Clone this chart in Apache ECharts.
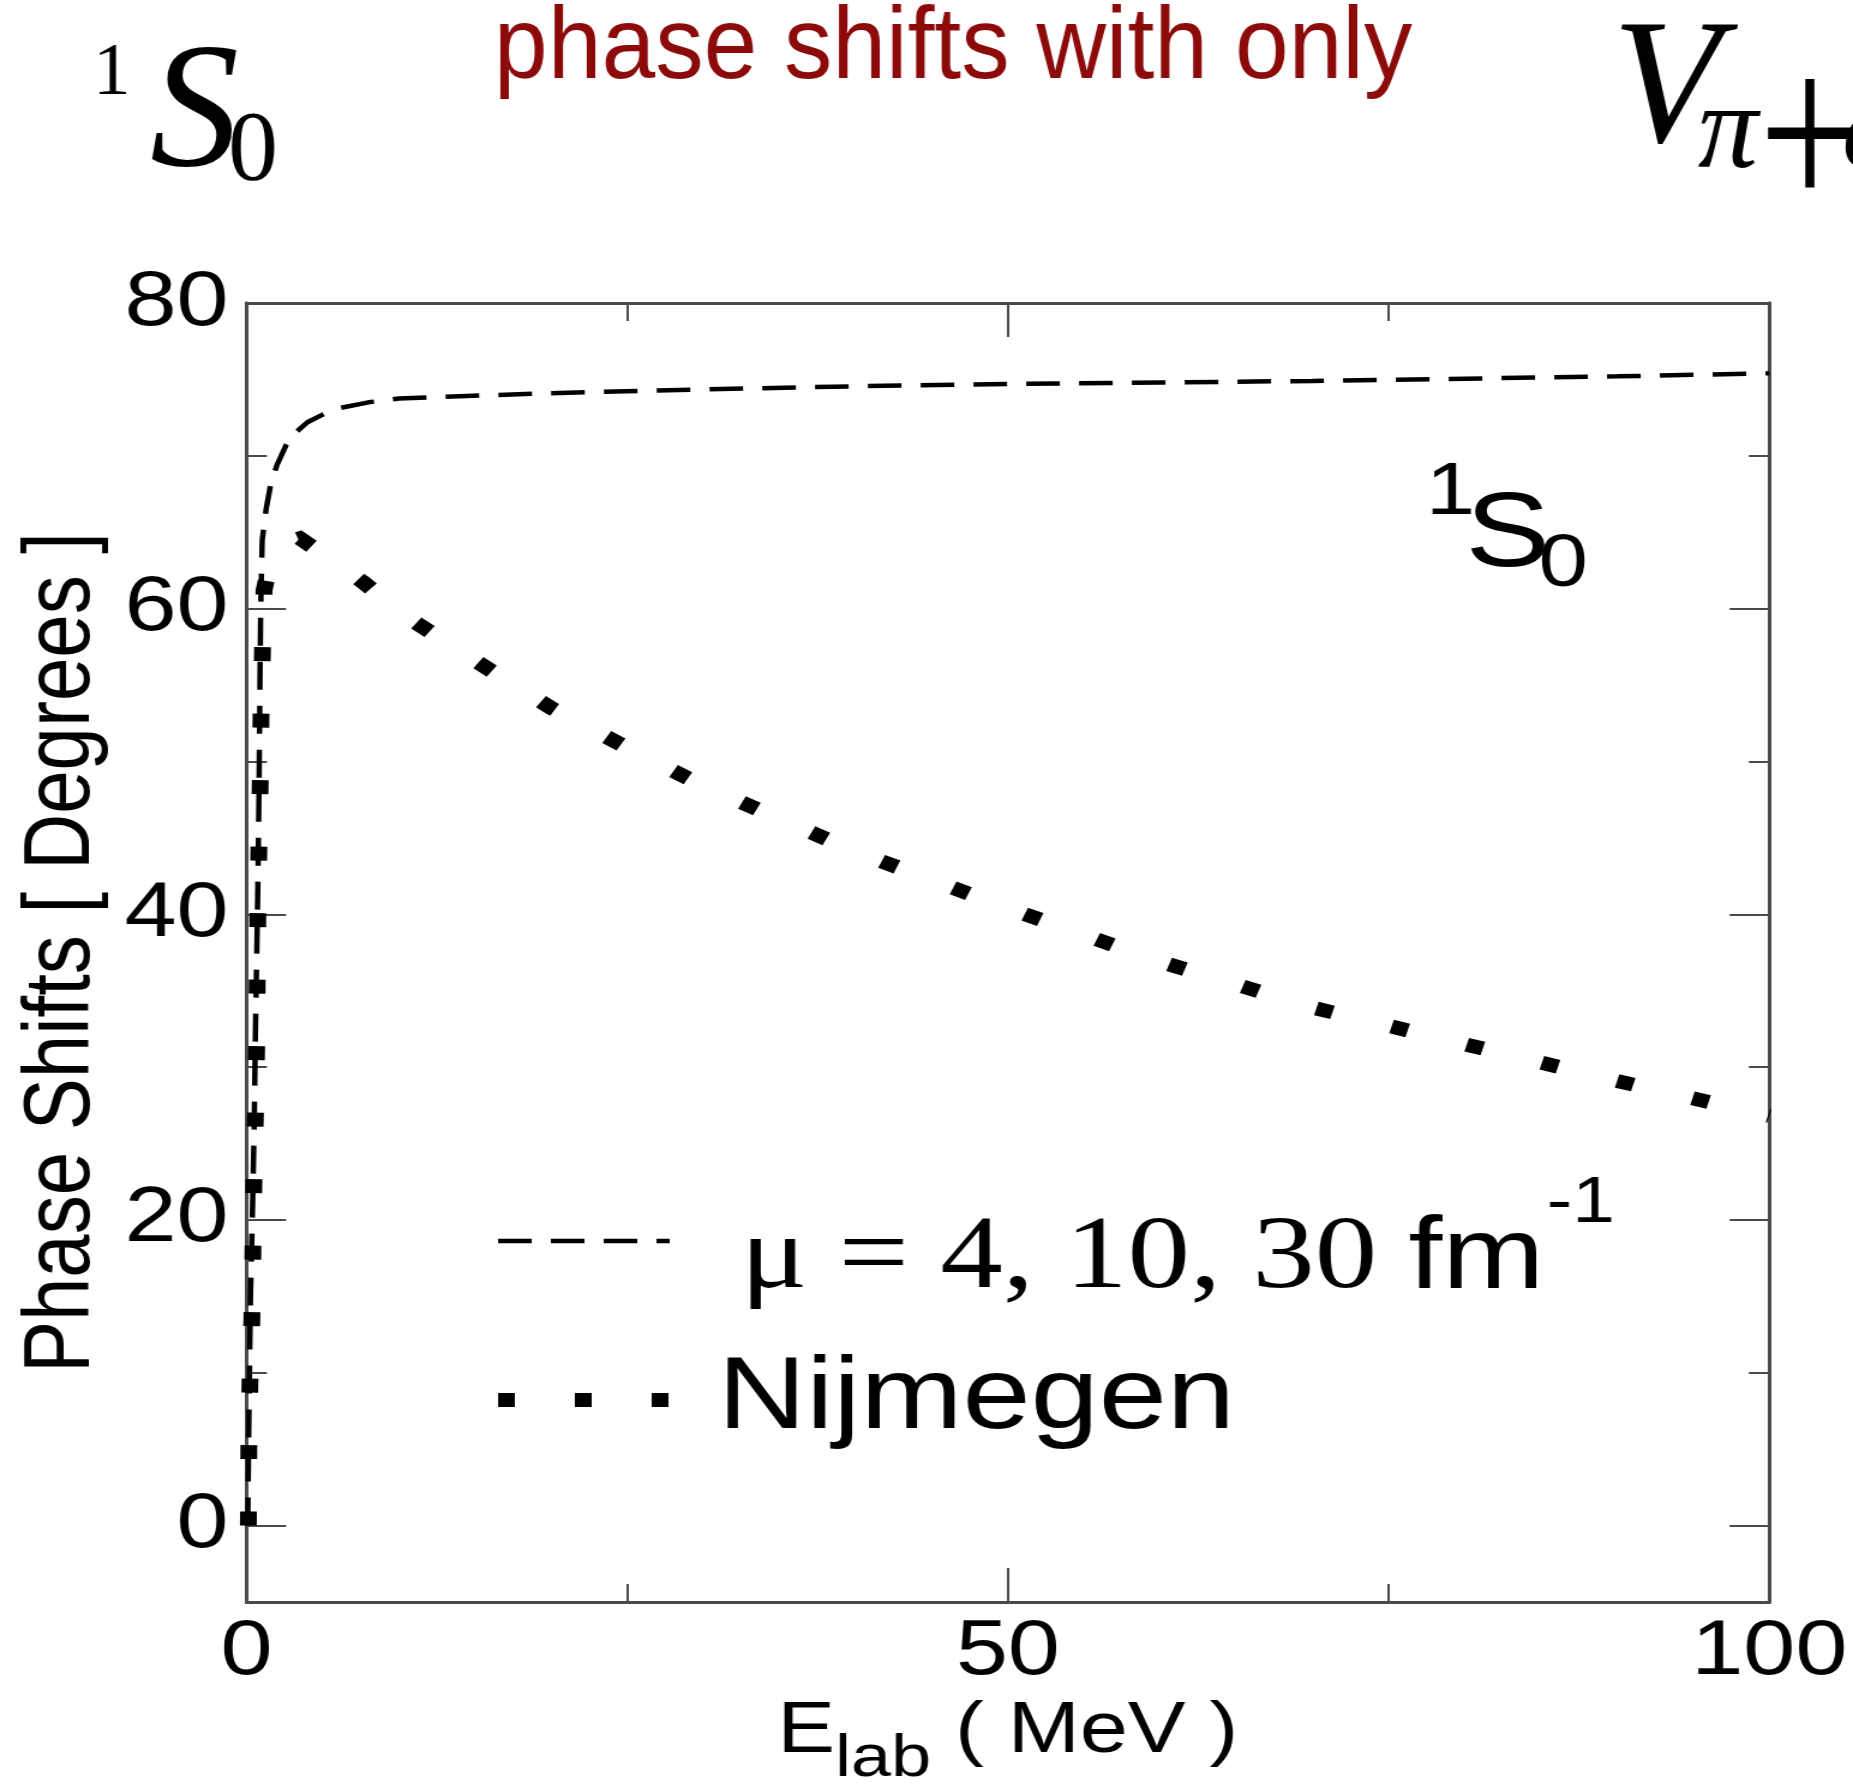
<!DOCTYPE html>
<html>
<head>
<meta charset="utf-8">
<script src="https://cdn.jsdelivr.net/npm/echarts@6/dist/echarts.min.js"></script>
<style>
  html, body { margin: 0; padding: 0; background: #fff; overflow: hidden; }
  #wrap { width: 1853px; height: 1787px; overflow: hidden; position: relative; }
  /* the figure is drawn on a narrower canvas and widened, as in the slide */
  #chart { width: 1544px; height: 1787px; transform: scaleX(1.20013); transform-origin: 0 0; }
</style>
</head>
<body>
<div id="wrap"><div id="chart"></div></div>
<script>
// 1S0 phase shifts (degrees) against lab energy (MeV)

// cut-off mu = 4, 10, 30 fm^-1 (the three curves coincide)
const muEnergy = [0.08, 0.15, 0.26, 0.4, 0.5, 0.58, 0.74, 0.82, 0.88, 0.93,
                  1.03, 1.3, 1.6, 2.0, 2.6, 3.2, 4.0, 5, 6, 8,
                  10, 14, 20, 30, 40, 50, 60, 70, 80, 90, 100];
const muPhase  = [0, 6.6, 15, 21, 26, 32, 41.6, 48, 55, 60,
                  64.5, 66.6, 68.2, 69.4, 70.7, 71.5, 72.2, 72.7, 73.1, 73.5,
                  73.75, 73.9, 74.1, 74.35, 74.55, 74.7, 74.8, 74.9, 75.05, 75.2, 75.4];

// Nijmegen partial-wave analysis
const nijEnergy = [0.12, 0.15, 0.22, 0.35, 0.42, 0.48, 0.58, 0.66, 0.7, 0.74,
                   0.81, 0.9, 0.95, 1.05, 1.15, 1.6, 2.3, 3.5, 5, 7.7,
                   10, 15, 20, 25, 30, 40, 50, 60, 70, 80, 90, 100];
const nijPhase  = [0, 5, 9.2, 13.5, 18, 22.3, 26.7, 31, 35.5, 40,
                   44.2, 48.6, 53, 57.4, 61.2, 63.2, 64.2, 64.6, 63.6, 61.7,
                   59.8, 56.6, 53.5, 50.9, 48.4, 44.1, 40.4, 36.9, 33.9, 31.5, 29.1, 26.8];

// axis ticks
const xRange = [0, 100];
const xStep = 50;
const yRange = [-5, 80];
const yMajorTicks = [0, 20, 40, 60, 80];
const yMinorTicks = [10, 30, 50, 70];

const MU_NAME = 'μ = 4, 10, 30 fm-1';
const NIJ_NAME = 'Nijmegen';

const SX = 1853 / 1544;          // horizontal widening of the canvas
const SANS = "'Liberation Sans', Arial, Helvetica, sans-serif";
const SERIF = "'Liberation Serif', 'Times New Roman', Times, serif";
const AXIS_GREY = '#4a4a4a';

const DASH_MU = [28, 16];
// square dots; the steep low-energy rise and the falling branch are stroked separately
const NIJ_KNEE = 16;                 // index where the two stroked pieces meet
const DOT_RISE = [14, 52.5];
const DOT_FALL = [14, 51.2];
const DOT_FALL_OFFSET = 50.3;
const DOT_LEGEND = [14, 50];

const zip = (xs, ys) => xs.map((x, i) => [x, ys[i]]);
const nijData = zip(nijEnergy, nijPhase);

const chart = echarts.init(document.getElementById('chart'), null, { renderer: 'canvas' });

const tickStyle = { color: AXIS_GREY, width: 2 };
const lineAxis = { show: true, onZero: false, lineStyle: { color: AXIS_GREY, width: 3 } };

function yAxisDef(position, ticks, len, withLabel) {
  const ax = {
    type: 'value', position: position, min: yRange[0], max: yRange[1],
    axisLine: lineAxis,
    axisTick: { show: true, inside: true, length: len, customValues: ticks, lineStyle: tickStyle },
    axisLabel: { show: false },
    splitLine: { show: false }
  };
  if (withLabel) {
    ax.axisLabel = { show: true, customValues: ticks, fontSize: 78, fontFamily: SANS, color: '#000', margin: 15,
                     padding: [6, 0, 0, 0] };
    ax.name = 'Phase Shifts [ Degrees ]';
    ax.nameLocation = 'middle';
    ax.nameGap = 114;
    ax.nameTextStyle = { fontSize: 78, fontFamily: SANS, color: '#000' };
  }
  return ax;
}

function xAxisDef(position, withLabel) {
  const ax = {
    type: 'value', position: position, min: xRange[0], max: xRange[1], interval: xStep,
    axisLine: lineAxis,
    axisTick: { show: true, inside: true, length: 34, lineStyle: tickStyle },
    minorTick: { show: true, splitNumber: 2, length: 18, lineStyle: tickStyle },
    axisLabel: { show: false },
    splitLine: { show: false },
    minorSplitLine: { show: false }
  };
  if (withLabel) {
    ax.axisLabel = { show: true, fontSize: 78, lineHeight: 78, fontFamily: SANS, color: '#000', margin: 11 };
    ax.name = '{e|E}{s|lab}{p| ( MeV )}';
    ax.nameLocation = 'middle';
    ax.nameGap = 92;
    ax.nameTextStyle = {
      color: '#000', fontFamily: SANS,
      rich: {
        e: { fontSize: 72, lineHeight: 72, verticalAlign: 'top', fontFamily: SANS, color: '#000' },
        s: { fontSize: 60, lineHeight: 60, verticalAlign: 'top', padding: [34, 0, 0, 0], fontFamily: SANS, color: '#000' },
        p: { fontSize: 72, lineHeight: 72, verticalAlign: 'top', fontFamily: SANS, color: '#000' }
      }
    };
  }
  return ax;
}

// slide heading texts (kept at natural width on the widened canvas)
function slideText(text, xFull, y, font, extra) {
  return Object.assign({
    type: 'text', x: xFull / SX, y: y, scaleX: 1 / SX, silent: true,
    style: Object.assign({ text: text, fill: '#000', align: 'left', textAlign: 'left',
                           verticalAlign: 'middle', textVerticalAlign: 'middle' }, font)
  }, extra || {});
}

function tagText(text, x, y, size) {
  return { type: 'text', x: x, y: y, silent: true,
    style: { text: text, fill: '#000', fontSize: size, fontFamily: SANS, align: 'left', verticalAlign: 'middle',
             textAlign: 'left', textVerticalAlign: 'middle' } };
}

const option = {
  animation: false,
  backgroundColor: '#fff',
  grid: { left: 205.4, right: 69.8, top: 303, bottom: 185, containLabel: false, outerBoundsMode: 'none' },
  xAxis: [xAxisDef('bottom', true), xAxisDef('top', false)],
  yAxis: [
    yAxisDef('left', yMajorTicks, 33, true),
    yAxisDef('left', yMinorTicks, 17, false),
    yAxisDef('right', yMajorTicks, 33, false),
    yAxisDef('right', yMinorTicks, 17, false)
  ],
  legend: {
    orient: 'vertical', left: 408, top: 1172, padding: 0, itemGap: 37,
    itemWidth: 143, itemHeight: 20, selectedMode: false,
    itemStyle: { opacity: 0, color: 'transparent', borderWidth: 0 },
    lineStyle: { width: 'inherit', type: 'inherit' },
    data: [
      { name: MU_NAME, lineStyle: { color: '#000', width: 4.5, type: DASH_MU, cap: 'butt' } },
      { name: NIJ_NAME, lineStyle: { color: '#000', width: 14, type: DOT_LEGEND, cap: 'butt' } }
    ],
    formatter: function (name) {
      return name === MU_NAME ? '{a|μ = 4, 10, 30 }{f|fm}{s|-1}' : '{n|Nijmegen}';
    },
    textStyle: {
      color: '#000',
      rich: {
        a: { fontFamily: SERIF, fontSize: 104, lineHeight: 138, verticalAlign: 'top', padding: [36, 0, 0, 54], color: '#000' },
        f: { fontFamily: SANS, fontSize: 102, lineHeight: 138, verticalAlign: 'top', padding: [37, 0, 0, 0], color: '#000' },
        s: { fontFamily: SANS, fontSize: 64, lineHeight: 72, verticalAlign: 'top', padding: [0, 0, 0, 2], color: '#000' },
        n: { fontFamily: SANS, fontSize: 102, lineHeight: 110, padding: [0, 0, 0, 35], color: '#000' }
      }
    }
  },
  graphic: [
    // heading: 1S0
    slideText('1', 93, 74, { fontSize: 75, fontFamily: SERIF }),
    slideText('S', 150, 118, { fontSize: 178, fontFamily: SERIF, fontStyle: 'italic' }),
    slideText('0', 228, 153, { fontSize: 100, fontFamily: SERIF }),
    // heading: phase shifts with only
    {
      type: 'text', x: 494 / SX, y: 50, scaleX: 0.947 / SX, silent: true,
      style: { text: 'phase shifts with only', fill: '#8c0a0a', fontSize: 102, fontFamily: SANS,
               align: 'left', textAlign: 'left', verticalAlign: 'middle', textVerticalAlign: 'middle' }
    },
    // heading: V_{pi+ct}
    slideText('V', 1612, 94, { fontSize: 178, fontFamily: SERIF, fontStyle: 'italic' }),
    slideText('π', 1698, 135, { fontSize: 120, fontFamily: SERIF, fontStyle: 'italic' }),
    slideText('+', 1759, 150, { fontSize: 180, fontFamily: SERIF }, { scaleY: 1.29 }),
    slideText('ct', 1842, 135, { fontSize: 120, fontFamily: SERIF, fontStyle: 'italic' }),
    // partial-wave tag inside the frame
    tagText('1', 1188, 494, 74),
    tagText('S', 1221, 537, 106),
    tagText('0', 1282, 566, 74)
  ],
  series: [
    {
      name: MU_NAME, type: 'line', data: zip(muEnergy, muPhase),
      symbol: 'none', showSymbol: false, clip: false, z: 3,
      lineStyle: { color: '#000', width: 4.5, type: DASH_MU, cap: 'butt' }
    },
    {
      name: NIJ_NAME, type: 'line', data: nijData.slice(0, NIJ_KNEE + 1),
      symbol: 'none', showSymbol: false, clip: false, z: 4,
      lineStyle: { color: '#000', width: 14, type: DOT_RISE, cap: 'butt', join: 'miter' }
    },
    {
      name: NIJ_NAME, type: 'line', data: nijData.slice(NIJ_KNEE),
      symbol: 'none', showSymbol: false, clip: false, z: 4,
      lineStyle: { color: '#000', width: 14, type: DOT_FALL, dashOffset: DOT_FALL_OFFSET, cap: 'butt', join: 'miter' }
    }
  ]
};

chart.setOption(option);
</script>
</body>
</html>
